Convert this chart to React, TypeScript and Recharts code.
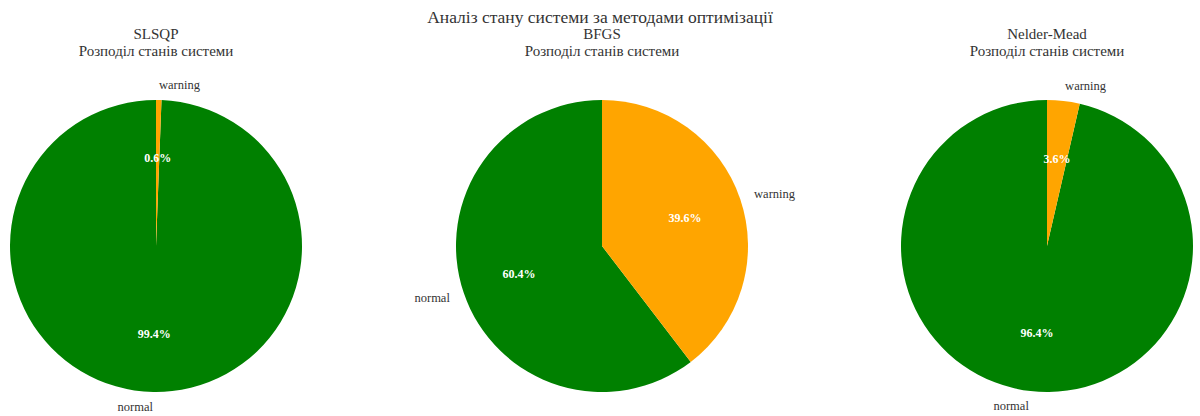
import React from 'react';
import { PieChart, Pie, Cell } from 'recharts';

// Стани системи та кольори (matplotlib 'green' / 'orange')
const states = ['normal', 'warning'];
const stateColors = ['#008000', '#FFA500'];

// Частки станів, % — по методах
const methods = ['SLSQP', 'BFGS', 'Nelder-Mead'];
const slsqpShares = [99.4, 0.6];
const bfgsShares = [60.4, 39.6];
const nelderMeadShares = [96.4, 3.6];

const mainTitle = 'Аналіз стану системи за методами оптимізації';
const subTitle = 'Розподіл станів системи';

const W = 1200;
const H = 416;
const R = 146;
const CY = 246;
const centersX = [156, 602, 1047];
const FONT = '"Liberation Serif", "DejaVu Serif", serif';
const RADIAN = Math.PI / 180;

const toRows = (shares: number[]) => states.map((name, i) => ({ name, value: shares[i] }));
const allShares = [slsqpShares, bfgsShares, nelderMeadShares];

// matplotlib-стиль: назва на 1.1r (ha за знаком x), відсоток на 0.6r
const renderLabel = (props: any) => {
  const { cx, cy, midAngle, outerRadius, percent, name } = props;
  const c = Math.cos(-midAngle * RADIAN);
  const s = Math.sin(-midAngle * RADIAN);
  const lx = cx + outerRadius * 1.1 * c;
  const ly = cy + outerRadius * 1.1 * s;
  const px = cx + outerRadius * 0.6 * c;
  const py = cy + outerRadius * 0.6 * s;
  return (
    <g>
      <text x={lx} y={ly} textAnchor={c > 0 ? 'start' : 'end'} dominantBaseline="central"
        fontFamily={FONT} fontSize={12.5} fill="#333">
        {name}
      </text>
      <text x={px} y={py} textAnchor="middle" dominantBaseline="central"
        fontFamily={FONT} fontSize={12} fontWeight="bold" fill="#ffffff">
        {`${(percent * 100).toFixed(1)}%`}
      </text>
    </g>
  );
};

export default function App() {
  return (
    <div style={{ position: 'fixed', left: 0, top: 0, width: W, height: H, background: '#fff', fontFamily: FONT }}>
      <PieChart width={W} height={H} margin={{ top: 0, right: 0, bottom: 0, left: 0 }}>
        {allShares.map((shares, k) => (
          <Pie
            key={methods[k]}
            data={toRows(shares)}
            dataKey="value"
            nameKey="name"
            cx={centersX[k]}
            cy={CY}
            outerRadius={R}
            startAngle={90}
            endAngle={450}
            stroke="none"
            labelLine={false}
            label={renderLabel}
            isAnimationActive={false}
          >
            {states.map((st, i) => <Cell key={st} fill={stateColors[i]} />)}
          </Pie>
        ))}
      </PieChart>
      <div style={{ position: 'absolute', left: 0, width: W, top: 8, textAlign: 'center', fontSize: 17.5, color: '#333', lineHeight: '19px' }}>
        {mainTitle}
      </div>
      {methods.map((m, k) => (
        <div key={m} style={{ position: 'absolute', left: centersX[k] - 150, width: 300, top: 26, textAlign: 'center', fontSize: 15, color: '#333', lineHeight: '17px' }}>
          <div>{m}</div>
          <div>{subTitle}</div>
        </div>
      ))}
    </div>
  );
}
